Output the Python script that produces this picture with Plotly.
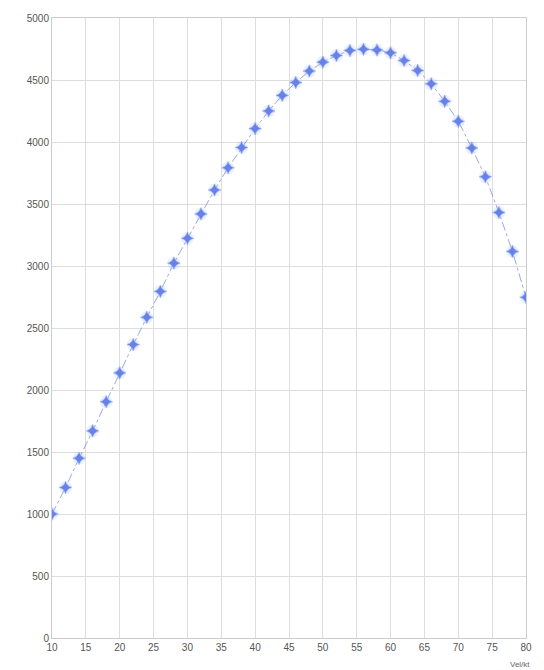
import plotly.graph_objects as go

# Speed samples (every 2 units) and the measured output at each speed
speed = [10, 12, 14, 16, 18, 20, 22, 24, 26, 28, 30, 32, 34, 36, 38, 40, 42, 44,
         46, 48, 50, 52, 54, 56, 58, 60, 62, 64, 66, 68, 70, 72, 74, 76, 78, 80]
output = [1000, 1214, 1450, 1670, 1905, 2138, 2366, 2586, 2795, 3023, 3223, 3420,
          3613, 3792, 3955, 4108, 4250, 4376, 4480, 4572, 4644, 4698, 4738, 4748,
          4742, 4719, 4657, 4577, 4469, 4328, 4167, 3952, 3719, 3432, 3117, 2747]

x_ticks = list(range(10, 85, 5))
y_ticks = list(range(0, 5500, 500))
x_unit_label = "Vel/kt"

fig = go.Figure()

# soft halo under each marker
fig.add_trace(go.Scatter(
    x=speed, y=output, mode="markers",
    marker=dict(symbol="circle", size=13, color="rgba(130,160,255,0.15)",
                line=dict(width=0)),
    hoverinfo="skip", showlegend=False,
))

fig.add_trace(go.Scatter(
    x=speed, y=output, mode="lines+markers",
    line=dict(color="rgba(120,140,210,0.75)", width=1, dash="dashdot"),
    marker=dict(symbol="star-diamond", size=9, color="#6682e8",
                line=dict(width=0.6, color="#9aaef2")),
    showlegend=False,
))

axis_font = dict(family="Liberation Sans, Arial, sans-serif", size=10, color="#555555")

fig.update_xaxes(
    range=[10, 80], tickvals=x_ticks, ticktext=[str(v) for v in x_ticks],
    showgrid=True, gridcolor="#dddddd", gridwidth=1,
    showline=True, linecolor="#cccccc", mirror=True,
    zeroline=False, ticks="", tickfont=axis_font,
)
fig.update_yaxes(
    range=[0, 5000], tickvals=y_ticks, ticktext=[str(v) for v in y_ticks],
    showgrid=True, gridcolor="#dddddd", gridwidth=1,
    showline=True, linecolor="#cccccc", mirror=True,
    zeroline=False, ticks="", tickfont=axis_font,
)

fig.add_annotation(
    x=1.0, y=0, xref="paper", yref="paper", xanchor="right", yanchor="top",
    yshift=-20, xshift=6, text=x_unit_label, showarrow=False,
    font=dict(family="Liberation Sans, Arial, sans-serif", size=8, color="#666666"),
)

fig.update_layout(
    width=544, height=670,
    margin=dict(l=52, r=16, t=16, b=32),
    paper_bgcolor="white", plot_bgcolor="white",
)

fig.write_html("out.html")
